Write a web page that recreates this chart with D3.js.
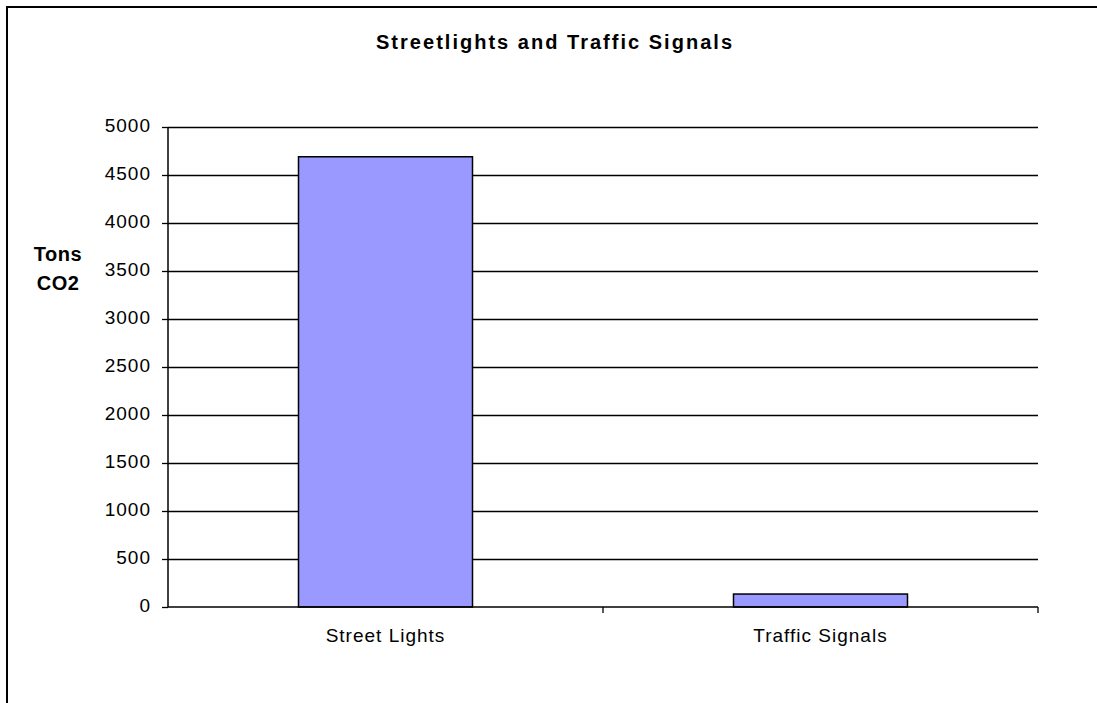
<!DOCTYPE html>
<html>
<head>
<meta charset="utf-8">
<script src="https://cdn.jsdelivr.net/npm/d3@7"></script>
<style>
html, body { margin: 0; padding: 0; background: #fff; overflow: hidden; }
svg { display: block; }
text { font-family: "Liberation Sans", Arial, sans-serif; fill: #000; }
</style>
</head>
<body>
<div id="vis"></div>
<script>
var w = 1097;
var h = 703;

// data
var categories = ["Street Lights", "Traffic Signals"];
var values = [4690, 135];
var yTicks = [0, 500, 1000, 1500, 2000, 2500, 3000, 3500, 4000, 4500, 5000];

var plotLeft = 168, plotRight = 1038, plotTop = 127, plotBottom = 607;

var svg = d3.select("#vis")
    .append("svg")
    .attr("width", w)
    .attr("height", h);

// outer frame: only top and left edges are in view
svg.append("path")
    .attr("d", "M7," + h + "V7H" + w)
    .attr("fill", "none")
    .attr("stroke", "#000")
    .attr("stroke-width", 2);

var x = d3.scaleBand()
    .domain(categories)
    .range([plotLeft, plotRight])
    .paddingInner(0.6)
    .paddingOuter(0.3);

var xStep = d3.scaleBand().domain(categories).range([plotLeft, plotRight]).padding(0);

var y = d3.scaleLinear()
    .domain([0, 5000])
    .range([plotBottom, plotTop]);

// gridlines
svg.selectAll("line.grid")
    .data(yTicks.filter(function(d) { return d > 0; }))
    .enter()
    .append("line")
    .attr("class", "grid")
    .attr("x1", plotLeft)
    .attr("x2", plotRight)
    .attr("y1", function(d) { return Math.round(y(d)) + 0.5; })
    .attr("y2", function(d) { return Math.round(y(d)) + 0.5; })
    .attr("stroke", "#000")
    .attr("stroke-width", 1.3);

// bars
svg.selectAll("rect.bar")
    .data(values)
    .enter()
    .append("rect")
    .attr("class", "bar")
    .attr("x", function(d, i) { return x(categories[i]); })
    .attr("y", function(d) { return y(d); })
    .attr("width", x.bandwidth())
    .attr("height", function(d) { return y(0) - y(d); })
    .attr("fill", "#9999FF")
    .attr("stroke", "#000")
    .attr("stroke-width", 1.5);

// y axis
var yAxis = d3.axisLeft(y)
    .tickValues(yTicks)
    .tickSize(6)
    .tickPadding(11)
    .tickFormat(d3.format("d"));

var gy = svg.append("g")
    .attr("transform", "translate(" + plotLeft + ",0)")
    .call(yAxis);
gy.select(".domain").attr("stroke-width", 1.5).attr("d", "M0," + plotTop + "V" + plotBottom);
gy.selectAll(".tick line").attr("stroke-width", 1.3);
gy.selectAll("text")
    .attr("dy", "0.25em")
    .style("font-family", "Liberation Sans, Arial, sans-serif")
    .style("font-size", "19px")
    .style("letter-spacing", "1px");

// x axis
var gx = svg.append("g")
    .attr("transform", "translate(0," + plotBottom + ")");
gx.append("line")
    .attr("x1", plotLeft)
    .attr("x2", plotRight)
    .attr("stroke", "#000")
    .attr("stroke-width", 1.5);
var bounds = categories.map(function(c) { return xStep(c) + xStep.bandwidth(); });
gx.selectAll("line.xt")
    .data(bounds)
    .enter()
    .append("line")
    .attr("class", "xt")
    .attr("x1", function(d) { return d; })
    .attr("x2", function(d) { return d; })
    .attr("y1", 0)
    .attr("y2", 6)
    .attr("stroke", "#000")
    .attr("stroke-width", 1.3);
gx.selectAll("text")
    .data(categories)
    .enter()
    .append("text")
    .attr("x", function(d) { return x(d) + x.bandwidth() / 2; })
    .attr("y", 35)
    .attr("text-anchor", "middle")
    .style("font-size", "19px")
    .style("letter-spacing", "1px")
    .text(function(d) { return d; });

// title
svg.append("text")
    .attr("x", 554)
    .attr("y", 49)
    .attr("text-anchor", "middle")
    .attr("textLength", 356)
    .attr("lengthAdjust", "spacing")
    .style("font-size", "20px")
    .style("font-weight", "bold")
    .text("Streetlights and Traffic Signals");

// y label
svg.append("text")
    .attr("x", 58)
    .attr("y", 261)
    .attr("text-anchor", "middle")
    .style("font-size", "20px")
    .style("font-weight", "bold")
    .style("letter-spacing", "0.5px")
    .text("Tons");
svg.append("text")
    .attr("x", 58)
    .attr("y", 290)
    .attr("text-anchor", "middle")
    .style("font-size", "20px")
    .style("font-weight", "bold")
    .style("letter-spacing", "0.5px")
    .text("CO2");
</script>
</body>
</html>
